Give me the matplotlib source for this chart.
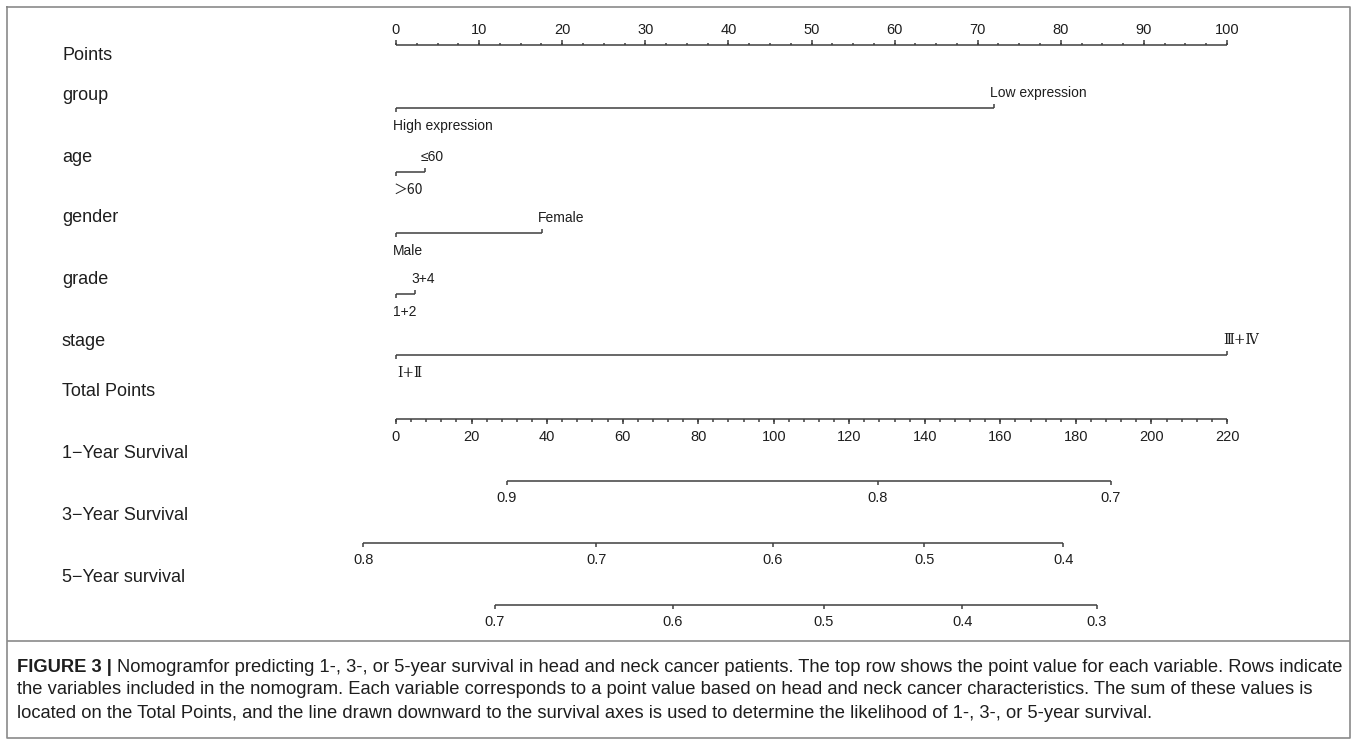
import matplotlib
matplotlib.use('Agg')
import matplotlib.pyplot as plt
from matplotlib import font_manager as fm
import numpy as np

# ---------------- data ----------------
points_ticks = list(range(0, 101, 10))
points_minor_step = 2.5
total_ticks = list(range(0, 221, 20))
total_minor_step = 4
variables = ['group', 'age', 'gender', 'grade', 'stage']
level_low = ['High expression', '＞60', 'Male', '1+2', 'Ⅰ+Ⅱ']
level_high = ['Low expression', '≤60', 'Female', '3+4', 'Ⅲ+Ⅳ']
points_low = [0, 0, 0, 0, 0]
points_high = [72, 3.5, 17.6, 2.3, 100]
surv_names = ['1−Year Survival', '3−Year Survival', '5−Year survival']
surv_probs = [[0.9, 0.8, 0.7],
              [0.8, 0.7, 0.6, 0.5, 0.4],
              [0.7, 0.6, 0.5, 0.4, 0.3]]
surv_total = [[29.4, 127.6, 189.3],
              [-8.7, 53.0, 99.8, 139.8, 176.6],
              [26.2, 73.3, 113.3, 149.9, 185.6]]
caption_bold = 'FIGURE 3 | '
caption_lines = [
    'Nomogramfor predicting 1-, 3-, or 5-year survival in head and neck cancer patients. The top row shows the point value for each variable. Rows indicate',
    'the variables included in the nomogram. Each variable corresponds to a point value based on head and neck cancer characteristics. The sum of these values is',
    'located on the Total Points, and the line drawn downward to the survival axes is used to determine the likelihood of 1-, 3-, or 5-year survival.',
]

# ---------------- layout ----------------
W, H = 1357, 744
X0, X100 = 396, 1227
ppp = (X100 - X0) / 100.0          # pixels per point
LINE_C = '#3f3f3f'
TEXT_C = '#1e1e1e'
LW = 1.1
SANS = ['Liberation Sans', 'DejaVu Sans', 'Noto Sans CJK SC']


def has_font(name):
    try:
        fm.findfont(fm.FontProperties(family=name), fallback_to_default=False)
        return True
    except Exception:
        return False


cap_family = 'Liberation Sans Narrow' if has_font('Liberation Sans Narrow') else 'Liberation Sans'

fig = plt.figure(figsize=(W / 100, H / 100), dpi=100)
deco = fig.add_axes([0, 0, 1, 1])
deco.set_xlim(0, W)
deco.set_ylim(H, 0)
deco.axis('off')
ax = fig.add_axes([0, 0, 1, 1])
ax.set_xlim(-X0 / ppp, (W - X0) / ppp)
ax.set_ylim(H, 0)
ax.axis('off')

px = 1.0 / ppp   # one pixel in points units
ROW_FS = 13
VAL_FS = 10
TICK_FS = 10.5

# row labels
row_label_y = [55, 95, 157, 218, 280, 342, 392, 453, 516, 578]
row_names = ['Points'] + variables + ['Total Points'] + surv_names
for name, y in zip(row_names, row_label_y):
    deco.text(62, y, name, fontsize=ROW_FS, va='center', ha='left',
              color=TEXT_C, family=SANS)

# Points axis
py = 45
ax.hlines(py, points_ticks[0], points_ticks[-1], color=LINE_C, lw=LW)
minor = np.arange(points_ticks[0], points_ticks[-1] + 1e-9, points_minor_step)
ax.vlines(minor, py - 2.5, py, color=LINE_C, lw=LW)
ax.vlines(points_ticks, py - 5, py, color=LINE_C, lw=LW)
for t in points_ticks:
    ax.text(t, 30, str(t), fontsize=TICK_FS, ha='center', va='center',
            color=TEXT_C, family=SANS)

# variable rows
row_y = [108, 172, 233, 294, 355]
for lo, hi, lo_lab, hi_lab, y in zip(points_low, points_high, level_low,
                                     level_high, row_y):
    ax.hlines(y, lo, hi, color=LINE_C, lw=LW)
    ax.vlines(lo, y, y + 4, color=LINE_C, lw=LW)
    ax.vlines(hi, y - 4, y, color=LINE_C, lw=LW)
    fam = SANS
    dx = -3
    if lo_lab.startswith('Ⅰ'):
        fam = ['DejaVu Serif', 'Noto Sans CJK SC']
        dx = 1
    elif lo_lab.startswith('＞'):
        fam = ['Noto Sans CJK SC', 'DejaVu Sans']
    ax.text(lo + dx * px, y + 18, lo_lab, fontsize=VAL_FS, ha='left',
            va='center', color=TEXT_C, family=fam)
    fam = ['DejaVu Serif', 'Noto Sans CJK SC'] if hi_lab.startswith('Ⅲ') else SANS
    ax.text(hi - 4 * px, y - 15, hi_lab, fontsize=VAL_FS, ha='left',
            va='center', color=TEXT_C, family=fam)

# Total points axis
tmax = total_ticks[-1]
to_pts = lambda v: np.asarray(v, dtype=float) * 100.0 / tmax
ty = 419
ax.hlines(ty, to_pts(total_ticks[0]), to_pts(tmax), color=LINE_C, lw=LW)
tminor = np.arange(total_ticks[0], tmax + 1e-9, total_minor_step)
ax.vlines(to_pts(tminor), ty, ty + 2.5, color=LINE_C, lw=LW)
ax.vlines(to_pts(total_ticks), ty, ty + 5, color=LINE_C, lw=LW)
for t in total_ticks:
    ax.text(to_pts(t), 437, str(t), fontsize=TICK_FS, ha='center',
            va='center', color=TEXT_C, family=SANS)

# survival axes
surv_y = [481, 543, 605]
for probs, tots, y in zip(surv_probs, surv_total, surv_y):
    xs = to_pts(tots)
    ax.hlines(y, xs.min(), xs.max(), color=LINE_C, lw=LW)
    ax.vlines(xs, y, y + 4, color=LINE_C, lw=LW)
    for p, x in zip(probs, xs):
        ax.text(x, y + 17, f'{p:.1f}', fontsize=TICK_FS, ha='center',
                va='center', color=TEXT_C, family=SANS)

# border and separator
deco.plot([7, 1350, 1350, 7, 7], [7, 7, 738, 738, 7], color='#8a8a8a', lw=1.2)
deco.hlines(641, 7, 1350, color='#8a8a8a', lw=1.2)

# caption
cap_y = [667, 690, 713]
fig.canvas.draw()
renderer = fig.canvas.get_renderer()


def width_px(txt):
    return txt.get_window_extent(renderer=renderer).width


fs0 = 11
tb = deco.text(17, cap_y[0], caption_bold, fontsize=fs0, fontweight='bold',
               family=cap_family, va='center', ha='left', color=TEXT_C)
tn = deco.text(0, cap_y[0], caption_lines[0], fontsize=fs0, family=cap_family,
               va='center', ha='left', color=TEXT_C)
total_w = width_px(tb) + width_px(tn)
fs = fs0 * (1340 - 17) / total_w
tb.set_fontsize(fs)
tn.set_fontsize(fs)
bw = width_px(tb)
tn.set_x(17 + bw)
for line, y in zip(caption_lines[1:], cap_y[1:]):
    deco.text(17, y, line, fontsize=fs, family=cap_family, va='center',
              ha='left', color=TEXT_C)

fig.savefig('out.png', dpi=100)
